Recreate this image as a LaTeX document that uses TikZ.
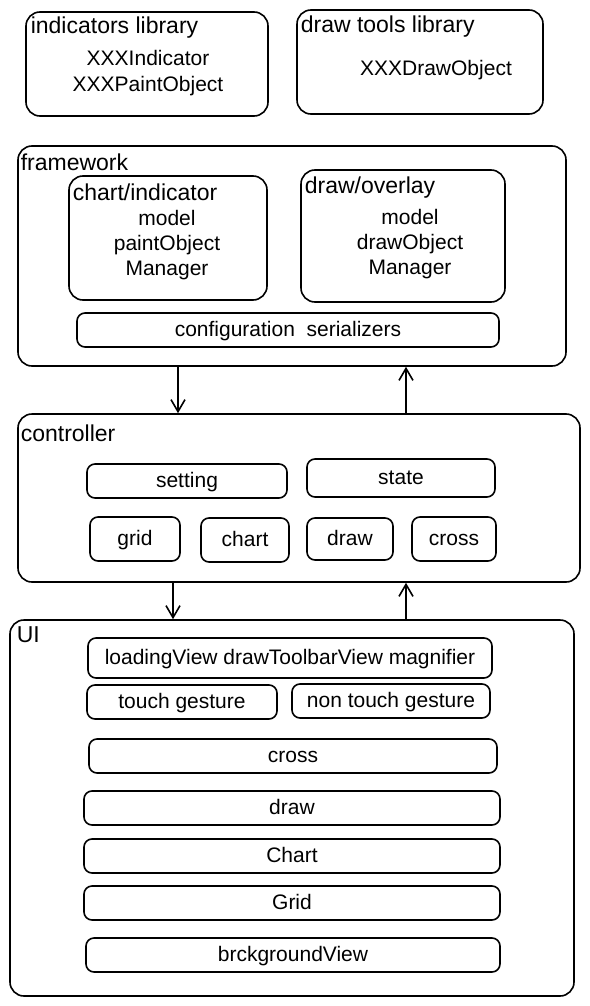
\documentclass[tikz,border=0pt]{standalone}
\usepackage{fontspec}
\setmainfont{Liberation Sans}
\usetikzlibrary{arrows.meta}

\begin{document}
\begin{tikzpicture}[x=0.5pt, y=-0.5pt, line width=0.8pt,
font=\fontsize{10.5}{12.6}\selectfont,
box/.style={draw, rounded corners=7pt, inner sep=0pt},
bar/.style={draw, rounded corners=4pt, inner sep=0pt, text height=1.6ex, text depth=0.3ex},
flow/.style={-{Straight Barb[length=6pt, width=7pt]}}]
\tikzstyle{title}=[anchor=west, inner sep=0pt, font=\fontsize{11.5}{13}\selectfont]
\tikzstyle{txt}=[align=center, inner sep=0pt]
\useasboundingbox (0,0) rectangle (589,1006);

%libraries
\node[box, minimum width=121pt, minimum height=52pt] (indlib) at (147,64) {};
\node[title] (indlibt) at (30,28) {indicators library};
\node[txt] (indlibc) at (148,73) {XXXIndicator\\XXXPaintObject};
\node[box, minimum width=123pt, minimum height=52pt] (drwlib) at (420,62) {};
\node[title] (drwlibt) at (300,27) {draw tools library};
\node[txt] (drwlibc) at (436,70) {XXXDrawObject};

%framework
\node[box, minimum width=274pt, minimum height=110pt] (fw) at (292,256) {};
\node[title] (fwt) at (20,162) {framework};
\node[box, minimum width=99pt, minimum height=62pt] (chi) at (168,238) {};
\node[title] (chit) at (72,192) {chart/indicator};
\node[txt] (chic) at (167,245) {model\\paintObject\\Manager};
\node[box, minimum width=102pt, minimum height=66pt] (dov) at (403,236) {};
\node[title] (dovt) at (304,188) {draw/overlay};
\node[txt] (dovc) at (410,244) {model\\drawObject\\Manager};
\node[bar, minimum width=211pt, minimum height=17pt] (cfg) at (288,330) {configuration \ serializers};

%controller
\node[box, minimum width=281pt, minimum height=84pt] (ctl) at (299,498) {};
\node[title] (ctlt) at (20,433) {controller};
\node[bar, minimum width=100pt, minimum height=17pt] (set) at (187,481) {setting};
\node[bar, minimum width=94pt, minimum height=19pt] (sta) at (401,478) {state};
\node[bar, minimum width=45pt, minimum height=22pt] (grd) at (135,539) {grid};
\node[bar, minimum width=44pt, minimum height=22pt] (cht) at (245,540) {chart};
\node[bar, minimum width=43pt, minimum height=21pt] (drw) at (350,539) {draw};
\node[bar, minimum width=42pt, minimum height=22pt] (crs) at (454,539) {cross};

%UI
\node[box, minimum width=282pt, minimum height=188pt] (ui) at (292,808) {};
\node[title] (uit) at (16,635) {UI};
\node[bar, minimum width=202pt, minimum height=20pt] (ldv) at (290,658) {loadingView drawToolbarView magnifier};
\node[bar, minimum width=95pt, minimum height=17pt] (tch) at (182,702) {touch gesture};
\node[bar, minimum width=99pt, minimum height=17pt] (ntc) at (391,701) {non touch gesture};
\node[bar, minimum width=204pt, minimum height=17pt] (ucrs) at (293,756) {cross};
\node[bar, minimum width=208pt, minimum height=17pt] (udrw) at (292,808) {draw};
\node[bar, minimum width=208pt, minimum height=17pt] (ucht) at (292,856) {Chart};
\node[bar, minimum width=208pt, minimum height=17pt] (ugrd) at (292,903) {Grid};
\node[bar, minimum width=207pt, minimum height=17pt] (ubg) at (293,955) {brckgroundView};

%flows
\coordinate (d1) at (178,0);
\coordinate (u1) at (406,0);
\coordinate (d2) at (173,0);
\coordinate (u2) at (406,0);
\draw[flow] (fw.south -| d1) -- (ctl.north -| d1);
\draw[flow] (ctl.north -| u1) -- (fw.south -| u1);
\draw[flow] (ctl.south -| d2) -- (ui.north -| d2);
\draw[flow] (ui.north -| u2) -- (ctl.south -| u2);
\end{tikzpicture}
\end{document}
